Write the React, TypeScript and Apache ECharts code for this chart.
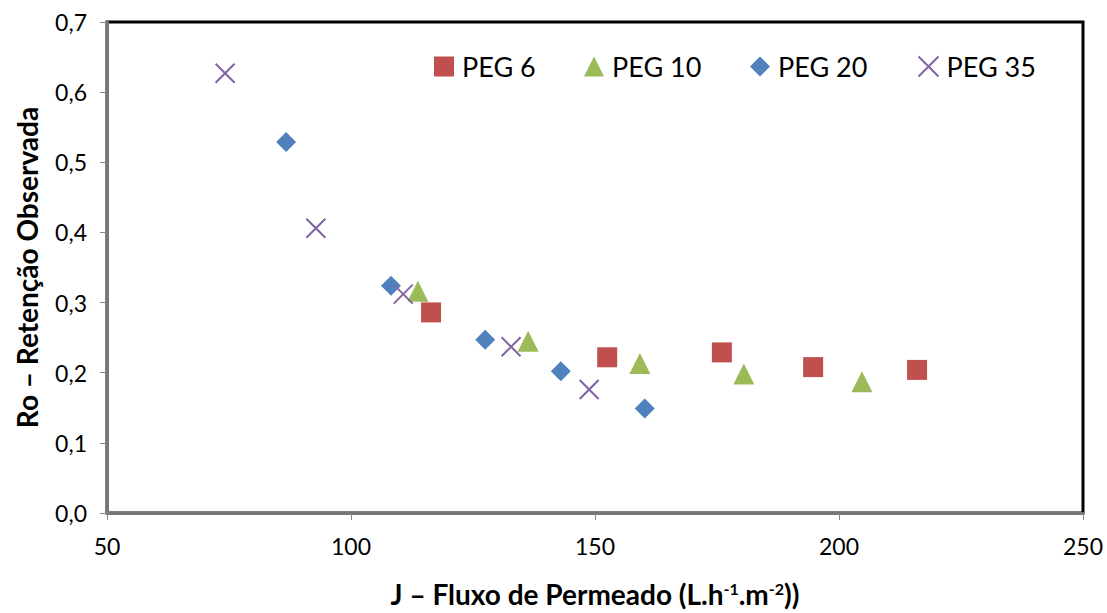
import React, { useEffect, useRef } from "react";
import * as echarts from "echarts";

const seriesNames = ["PEG 6", "PEG 10", "PEG 20", "PEG 35"];
const peg6: number[][] = [
  [116.4, 0.286],
  [152.5, 0.222],
  [176.0, 0.229],
  [194.7, 0.208],
  [216.0, 0.204],
];
const peg10: number[][] = [
  [113.7, 0.316],
  [136.3, 0.245],
  [159.2, 0.213],
  [180.5, 0.198],
  [204.7, 0.187],
];
const peg20: number[][] = [
  [86.7, 0.529],
  [108.2, 0.324],
  [127.5, 0.247],
  [143.0, 0.202],
  [160.2, 0.149],
];
const peg35: number[][] = [
  [74.2, 0.627],
  [92.8, 0.406],
  [110.7, 0.312],
  [132.8, 0.237],
  [148.8, 0.176],
];
const colors = ["#c0504d", "#9bbb59", "#4f81bd", "#8064a2"];
const xTicks = { min: 50, max: 250, interval: 50 };
const yTicks = { min: 0, max: 0.7, interval: 0.1 };

const FONT = "Lato, 'Noto Sans', sans-serif";
const X_PATH = "path://M0,0L20,20M20,0L0,20";

export default function App() {
  const ref = useRef<HTMLDivElement>(null);
  useEffect(() => {
    if (!ref.current) return;
    const chart = echarts.init(ref.current, undefined, { renderer: "svg" });
    const data = [peg6, peg10, peg20, peg35];
    const symbols = ["rect", "triangle", "diamond", X_PATH];
    const sizes = [20, 21, 20, 19];
    const legendLefts = [429, 579, 745, 911];
    chart.setOption({
      animation: false,
      grid: {
        left: 107,
        top: 22,
        right: 24,
        bottom: 98,
        show: true,
        borderColor: "#000",
        borderWidth: 3,
        backgroundColor: "#fff",
      },
      legend: seriesNames.map((n, i) => ({
        data: [n],
        left: legendLefts[i],
        top: 48,
        itemWidth: 20,
        itemHeight: 20,
        itemGap: 0,
        textStyle: { fontFamily: FONT, fontSize: 27, color: "#000", padding: [0, 0, 0, 3] },
      })),
      xAxis: {
        type: "value",
        min: xTicks.min,
        max: xTicks.max,
        interval: xTicks.interval,
        splitLine: { show: false },
        axisLine: { show: true, onZero: false, lineStyle: { color: "#777", width: 3 } },
        axisTick: { show: true, length: 7, lineStyle: { color: "#868686", width: 1 } },
        axisLabel: { fontFamily: FONT, fontSize: 23, color: "#000", margin: 21 },
        name: "J – Fluxo de Permeado (L.h{sup|-1}.m{sup|-2}))",
        nameLocation: "middle",
        nameGap: 67,
        nameTextStyle: {
          fontFamily: FONT,
          fontSize: 28,
          fontWeight: "bold",
          color: "#000",
          rich: {
            sup: { fontFamily: FONT, fontSize: 16, fontWeight: "bold", color: "#000", padding: [0, 0, 12, 0] },
          },
        },
      },
      yAxis: {
        type: "value",
        min: yTicks.min,
        max: yTicks.max,
        interval: yTicks.interval,
        splitLine: { show: false },
        axisLine: { show: true, onZero: false, lineStyle: { color: "#777", width: 3 } },
        axisTick: { show: true, length: 7, lineStyle: { color: "#868686", width: 1 } },
        axisLabel: {
          fontFamily: FONT,
          fontSize: 23,
          color: "#000",
          margin: 20,
          formatter: (v: number) => v.toFixed(1).replace(".", ","),
        },
        name: "Ro – Retenção Observada",
        nameLocation: "middle",
        nameGap: 66,
        nameTextStyle: { fontFamily: FONT, fontSize: 28, fontWeight: "bold", color: "#000" },
      },
      series: seriesNames.map((n, i) => ({
        name: n,
        type: "scatter",
        data: data[i],
        symbol: symbols[i],
        symbolSize: sizes[i],
        itemStyle:
          i === 3
            ? { color: "none", borderColor: colors[i], borderWidth: 2, opacity: 1 }
            : { color: colors[i], opacity: 1 },
      })),
    });
    return () => chart.dispose();
  }, []);
  return (
    <div
      ref={ref}
      style={{ position: "fixed", left: 0, top: 0, width: 1107, height: 613, background: "#fff" }}
    />
  );
}
